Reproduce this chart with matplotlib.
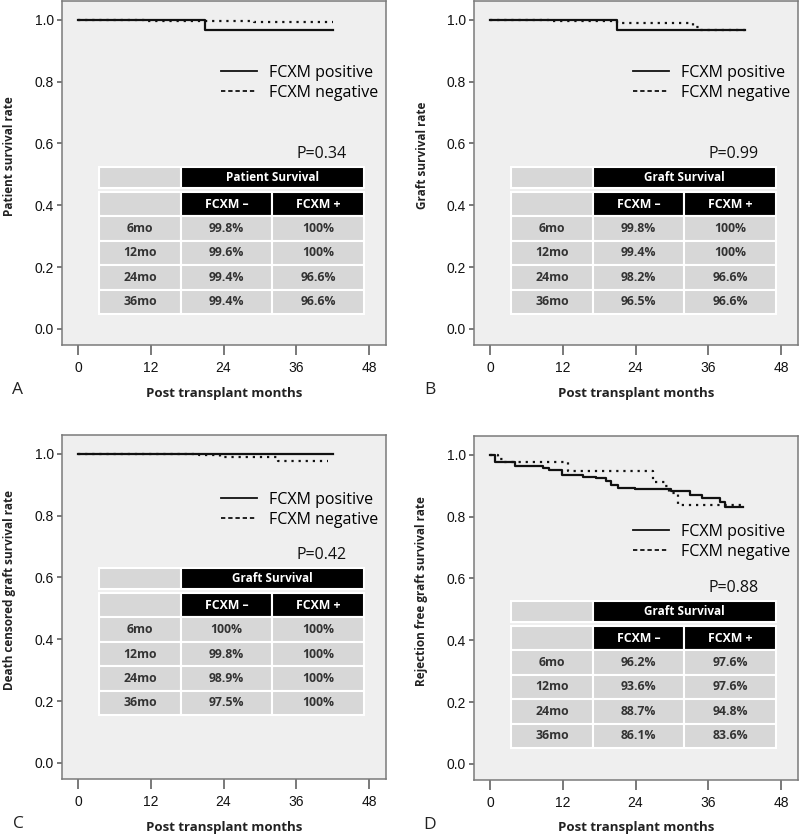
import matplotlib
matplotlib.use("Agg")
import matplotlib.pyplot as plt
from matplotlib.lines import Line2D

# ---------------- data ----------------
x_ticks = [0, 12, 24, 36, 48]
y_ticks = [0.0, 0.2, 0.4, 0.6, 0.8, 1.0]
y_tick_labels = ["0.0", "0.2", "0.4", "0.6", "0.8", "1.0"]

# Panel A - patient survival
A_pos_t = [0, 21, 42]
A_pos_s = [1.0, 0.966, 0.966]
A_neg_t = [0, 4, 11, 29, 42]
A_neg_s = [1.0, 0.998, 0.996, 0.993, 0.993]

# Panel B - graft survival
B_pos_t = [0, 21, 42]
B_pos_s = [1.0, 0.966, 0.966]
B_neg_t = [0, 3, 10, 21, 33.5, 34.5, 42]
B_neg_s = [1.0, 0.998, 0.995, 0.99, 0.978, 0.966, 0.966]

# Panel C - death censored graft survival
C_pos_t = [0, 42]
C_pos_s = [1.0, 1.0]
C_neg_t = [0, 20, 23.4, 33, 41.3]
C_neg_s = [1.0, 0.997, 0.99, 0.976, 0.976]

# Panel D - rejection free graft survival
D_pos_t = [0, 0.9, 4.1, 8.7, 9.8, 11.8, 15.3, 17.5, 19.2, 20.0, 21.1, 23.9, 29.9, 33.0, 34.9, 37.9, 38.7, 41.8]
D_pos_s = [1.0, 0.976, 0.965, 0.956, 0.95, 0.935, 0.929, 0.924, 0.915, 0.904, 0.894, 0.888, 0.882, 0.869, 0.861, 0.848, 0.83, 0.83]
D_neg_t = [0, 1.3, 2.2, 12.9, 26.9, 28.8, 29.6, 31.0, 41.4]
D_neg_s = [1.0, 0.988, 0.976, 0.948, 0.913, 0.899, 0.875, 0.838, 0.838]

row_labels = ["6mo", "12mo", "24mo", "36mo"]
col_labels = ["FCXM \u2013", "FCXM +"]
A_neg_pct = ["99.8%", "99.6%", "99.4%", "99.4%"]
A_pos_pct = ["100%", "100%", "96.6%", "96.6%"]
B_neg_pct = ["99.8%", "99.4%", "98.2%", "96.5%"]
B_pos_pct = ["100%", "100%", "96.6%", "96.6%"]
C_neg_pct = ["100%", "99.8%", "98.9%", "97.5%"]
C_pos_pct = ["100%", "100%", "100%", "100%"]
D_neg_pct = ["96.2%", "93.6%", "88.7%", "86.1%"]
D_pos_pct = ["97.6%", "97.6%", "94.8%", "83.6%"]

headers = ["Patient Survival", "Graft Survival", "Graft Survival", "Graft Survival"]
p_values = ["P=0.34", "P=0.99", "P=0.42", "P=0.88"]
y_labels = ["Patient survival rate", "Graft survival rate",
            "Death censored graft survival rate", "Rejection free graft survival rate"]
panel_letters = ["A", "B", "C", "D"]
legend_labels = ["FCXM positive", "FCXM negative"]
x_label = "Post transplant months"

# ---------------- style ----------------
TXT = "Open Sans"
TICKF = "Liberation Sans"
BG = "#efefef"
CELL = "#d7d7d7"

fig = plt.figure(figsize=(8, 8.35), dpi=100)
W, H = 800.0, 835.0

# axes rectangles in pixels: left, top
boxes = [(62, 1), (474, 1), (62, 435), (474, 436)]
BW, BH = 324, 344

panels = [
    (A_pos_t, A_pos_s, A_neg_t, A_neg_s, A_neg_pct, A_pos_pct),
    (B_pos_t, B_pos_s, B_neg_t, B_neg_s, B_neg_pct, B_pos_pct),
    (C_pos_t, C_pos_s, C_neg_t, C_neg_s, C_neg_pct, C_pos_pct),
    (D_pos_t, D_pos_s, D_neg_t, D_neg_s, D_neg_pct, D_pos_pct),
]
# layout of legend / P text / table (pixels below box top)
legend_y = [82, 82, 75, 106]
p_y = [153, 153, 120, 152]
table_top = [166, 166, 133, 165]

for i, (pt, ps, nt, ns, negp, posp) in enumerate(panels):
    lx, ty = boxes[i]
    ax = fig.add_axes([lx / W, 1 - (ty + BH) / H, BW / W, BH / H])
    ax.set_facecolor(BG)
    ax.set_xlim(-2.64, 50.8)
    ax.set_ylim(-0.052, 1.061)

    ax.step(nt, ns, where="post", color="#111111", lw=1.6,
            linestyle=(0, (1, 2.2)), zorder=3)
    ax.step(pt, ps, where="post", color="#111111", lw=1.6, zorder=4)

    for s in ax.spines.values():
        s.set_color("#7a7a7a")
        s.set_linewidth(1.1)
    ax.set_xticks(x_ticks)
    ax.set_xticklabels([str(v) for v in x_ticks], fontfamily=TICKF, fontsize=10,
                       color="#111111")
    ax.set_yticks(y_ticks)
    ax.set_yticklabels(y_tick_labels, fontfamily=TICKF, fontsize=10, color="#111111")
    ax.tick_params(axis="x", direction="out", length=7.5, width=1.1, color="#555555", pad=4)
    ax.tick_params(axis="y", direction="out", length=3.5, width=1.1, color="#555555", pad=2.5)

    ax.set_xlabel(x_label, fontfamily=TXT, fontsize=9.5, fontweight="bold", color="#222222")
    ax.xaxis.label.set_va("center")
    ax.xaxis.set_label_coords(0.5, -48 / BH)
    ax.set_ylabel(y_labels[i], fontfamily=TXT, fontsize=8.5, fontweight="bold", color="#222222")
    ax.yaxis.label.set_va("center")
    ax.yaxis.set_label_coords(-52 / BW, 0.55)

    # legend
    handles = [Line2D([], [], color="#111111", lw=1.3),
               Line2D([], [], color="#111111", lw=1.3, linestyle=(0, (2.4, 1.6)))]
    ax.legend(handles, legend_labels, loc="center left", frameon=False,
              bbox_to_anchor=(0.49, 1 - legend_y[i] / BH),
              borderaxespad=0, borderpad=0, handlelength=2.3, handletextpad=0.75,
              labelspacing=0.25,
              prop={"family": TXT, "size": 11.5})

    # P value
    ax.text(0.80, 1 - p_y[i] / BH, p_values[i], transform=ax.transAxes,
            ha="center", va="center", fontfamily=TXT, fontsize=11.5, color="#111111")

    # tables
    x0 = 37 / BW
    tw = 265 / BW
    h1 = 21 / BH
    gap = 4 / BH
    hb = 122 / BH
    top = 1 - table_top[i] / BH
    t1 = ax.table(cellText=[["", headers[i]]], colWidths=[82, 183],
                  bbox=[x0, top - h1, tw, h1], cellLoc="center")
    t1.auto_set_font_size(False)
    t1.set_fontsize(8.5)
    for (r, c), cell in t1.get_celld().items():
        cell.set_edgecolor("white")
        cell.set_linewidth(1.5)
        if c == 0:
            cell.set_facecolor(CELL)
        else:
            cell.set_facecolor("black")
            cell.get_text().set_color("white")
            cell.get_text().set_fontweight("bold")
            cell.get_text().set_fontfamily(TXT)
    body = [["", col_labels[0], col_labels[1]]]
    for k in range(len(row_labels)):
        body.append([row_labels[k], negp[k], posp[k]])
    t2 = ax.table(cellText=body, colWidths=[82, 91, 92],
                  bbox=[x0, top - h1 - gap - hb, tw, hb], cellLoc="center")
    t2.auto_set_font_size(False)
    t2.set_fontsize(8.8)
    for (r, c), cell in t2.get_celld().items():
        cell.set_edgecolor("white")
        cell.set_linewidth(1.5)
        txt = cell.get_text()
        txt.set_fontfamily(TXT)
        txt.set_fontweight("bold")
        if r == 0 and c > 0:
            cell.set_facecolor("black")
            txt.set_color("white")
        else:
            cell.set_facecolor(CELL)
            txt.set_color("#333333")

    fig.text((lx - 44) / W, 1 - (ty + BH + 45) / H, panel_letters[i],
             fontfamily=TXT, fontsize=12.5, ha="center", va="center", color="#222222")

fig.savefig("out.png", dpi=100, facecolor="white")
